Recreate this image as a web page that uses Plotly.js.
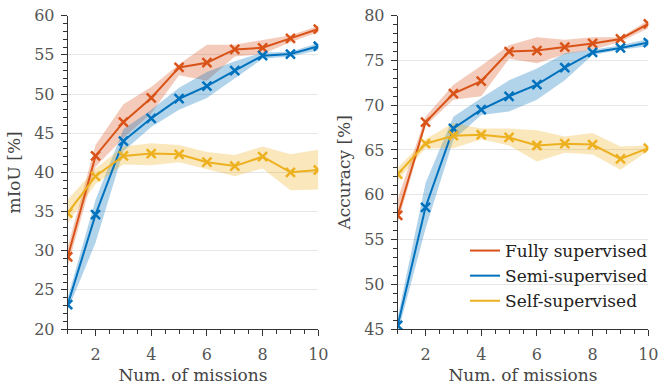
<!DOCTYPE html>
<html>
<head>
<meta charset="utf-8">
<script src="https://cdn.plot.ly/plotly-3.0.1.min.js"></script>
<style>html,body{margin:0;padding:0;background:#fff;}#chart{width:667px;height:387px;}</style>
</head>
<body>
<div id="chart"></div>
<script>
// ---- data ----
const missions = [1, 2, 3, 4, 5, 6, 7, 8, 9, 10];
const seriesNames = ["Fully supervised", "Semi-supervised", "Self-supervised"];

// mIoU [%]
const miouFully      = [29.2, 42.1, 46.4, 49.5, 53.4, 54.0, 55.7, 55.9, 57.1, 58.3];
const miouFullyHi    = [30.5, 43.5, 48.7, 50.9, 53.8, 56.3, 56.3, 56.9, 57.5, 58.7];
const miouFullyLo    = [28.0, 40.7, 44.4, 47.5, 52.4, 51.7, 54.8, 55.1, 56.6, 57.9];
const miouSemi       = [23.1, 34.6, 44.0, 46.9, 49.4, 51.0, 53.0, 54.9, 55.1, 56.1];
const miouSemiHi     = [24.0, 36.5, 45.5, 48.0, 50.8, 52.8, 54.2, 55.3, 55.4, 56.5];
const miouSemiLo     = [22.4, 31.0, 42.7, 45.8, 48.0, 49.5, 52.0, 54.5, 54.8, 55.6];
const miouSelf       = [34.8, 39.5, 42.1, 42.4, 42.3, 41.3, 40.8, 42.0, 40.0, 40.3];
const miouSelfHi     = [36.5, 40.5, 43.3, 43.7, 43.5, 42.6, 42.2, 43.3, 42.3, 42.9];
const miouSelfLo     = [33.5, 38.5, 41.0, 40.9, 41.3, 40.4, 39.5, 40.5, 37.7, 37.8];

// Accuracy [%]
const accFully       = [57.7, 68.1, 71.3, 72.7, 76.0, 76.1, 76.5, 76.9, 77.4, 79.1];
const accFullyHi     = [59.5, 68.7, 72.3, 74.4, 76.7, 77.6, 77.3, 77.6, 77.6, 79.5];
const accFullyLo     = [56.8, 67.7, 70.6, 71.0, 75.2, 74.7, 75.7, 76.2, 77.1, 78.6];
const accSemi        = [45.4, 58.6, 67.4, 69.5, 71.0, 72.3, 74.2, 75.9, 76.4, 77.0];
const accSemiHi      = [46.3, 61.3, 68.7, 70.8, 72.8, 74.1, 75.8, 76.2, 76.7, 77.4];
const accSemiLo      = [44.5, 56.2, 66.1, 68.9, 69.3, 70.6, 72.8, 75.6, 76.2, 76.6];
const accSelf        = [62.3, 65.7, 66.6, 66.7, 66.4, 65.5, 65.7, 65.6, 64.0, 65.2];
const accSelfHi      = [63.0, 66.2, 68.0, 67.4, 67.4, 67.2, 66.5, 66.9, 65.4, 65.5];
const accSelfLo      = [61.6, 65.2, 65.2, 66.2, 65.5, 63.7, 64.7, 64.5, 62.8, 64.9];

// ---- styling ----
const colors = ["#D95319", "#0072BD", "#EDB120"];
const bandColors = ["rgba(217,83,25,0.3)", "rgba(0,114,189,0.3)", "rgba(237,177,32,0.3)"];
const FONT = "DejaVu Serif, Liberation Serif, Times New Roman, Times, serif";

function band(x, hi, lo, color, xa, ya) {
  return {
    x: x.concat(x.slice().reverse()),
    y: hi.concat(lo.slice().reverse()),
    xaxis: xa, yaxis: ya,
    type: "scatter", mode: "lines", fill: "toself",
    fillcolor: color, line: {width: 0, color: "rgba(0,0,0,0)"},
    hoverinfo: "skip", showlegend: false
  };
}
function line(x, y, color, xa, ya) {
  return {
    x: x, y: y, xaxis: xa, yaxis: ya,
    type: "scatter", mode: "lines+markers",
    line: {color: color, width: 2},
    marker: {symbol: "x-thin", size: 9, line: {color: color, width: 2.5}},
    showlegend: false
  };
}

const leftSets = [[miouFully, miouFullyHi, miouFullyLo], [miouSemi, miouSemiHi, miouSemiLo], [miouSelf, miouSelfHi, miouSelfLo]];
const rightSets = [[accFully, accFullyHi, accFullyLo], [accSemi, accSemiHi, accSemiLo], [accSelf, accSelfHi, accSelfLo]];

const traces = [];
[[leftSets, "x", "y"], [rightSets, "x2", "y2"]].forEach(([sets, xa, ya]) => {
  sets.forEach((s, i) => traces.push(band(missions, s[1], s[2], bandColors[i], xa, ya)));
  sets.forEach((s, i) => traces.push(line(missions, s[0], colors[i], xa, ya)));
});
// legend entries (lines only)
seriesNames.forEach((n, i) => traces.push({
  x: [null], y: [null], xaxis: "x2", yaxis: "y2", type: "scatter", mode: "lines",
  name: n, line: {color: colors[i], width: 2}, showlegend: true
}));

const W = 667, H = 387;
const yTop = 15.7, yBot = 329;
function xAxis(dom, anchor) {
  return {
    domain: dom, anchor: anchor, range: [1, 10],
    tick0: 0, dtick: 2, ticks: "outside", ticklen: 6, tickwidth: 1, tickcolor: "#333",
    minor: {dtick: 0.5, tick0: 0, ticks: "outside", ticklen: 3.5, tickwidth: 1, tickcolor: "#333", showgrid: false},
    showline: true, linecolor: "#333", linewidth: 1,
    showgrid: false, zeroline: false,
    tickfont: {family: FONT, size: 16, color: "#555"},
    ticklabelstandoff: 5,
    title: {text: "Num. of missions", font: {family: FONT, size: 17, color: "#444"}, standoff: 5},
    automargin: false
  };
}
function yAxis(range, dom, anchor, title) {
  return {
    domain: dom, anchor: anchor, range: range,
    dtick: 5, ticks: "outside", ticklen: 6, tickwidth: 1, tickcolor: "#333",
    minor: {dtick: 1, ticks: "outside", ticklen: 3.5, tickwidth: 1, tickcolor: "#333", showgrid: false},
    showline: true, linecolor: "#333", linewidth: 1,
    showgrid: true, gridcolor: "#e6e6e6", gridwidth: 1, zeroline: false,
    tickfont: {family: FONT, size: 16, color: "#555"},
    ticklabelstandoff: 3,
    title: {text: title, font: {family: FONT, size: 17, color: "#444"}, standoff: 9},
    automargin: false
  };
}
const yDom = [(H - yBot) / H, (H - yTop) / H];
const layout = {
  width: W, height: H,
  margin: {l: 0, r: 0, t: 0, b: 0},
  paper_bgcolor: "#fff", plot_bgcolor: "#fff",
  font: {family: FONT},
  showlegend: true,
  legend: {
    x: 465 / W, y: (H - 233) / H, xanchor: "left", yanchor: "top",
    bgcolor: "rgba(0,0,0,0)", borderwidth: 0,
    font: {family: FONT, size: 17, color: "#222"},
    itemwidth: 30, tracegroupgap: 0
  },
  xaxis: xAxis([67.7 / W, 318.3 / W], "y"),
  yaxis: yAxis([20, 60], yDom, "x", "mIoU [%]"),
  xaxis2: xAxis([397.7 / W, 648.3 / W], "y2"),
  yaxis2: yAxis([45, 80], yDom, "x2", "Accuracy [%]")
};
Plotly.newPlot("chart", traces, layout, {displayModeBar: false, staticPlot: true});
</script>
</body>
</html>
